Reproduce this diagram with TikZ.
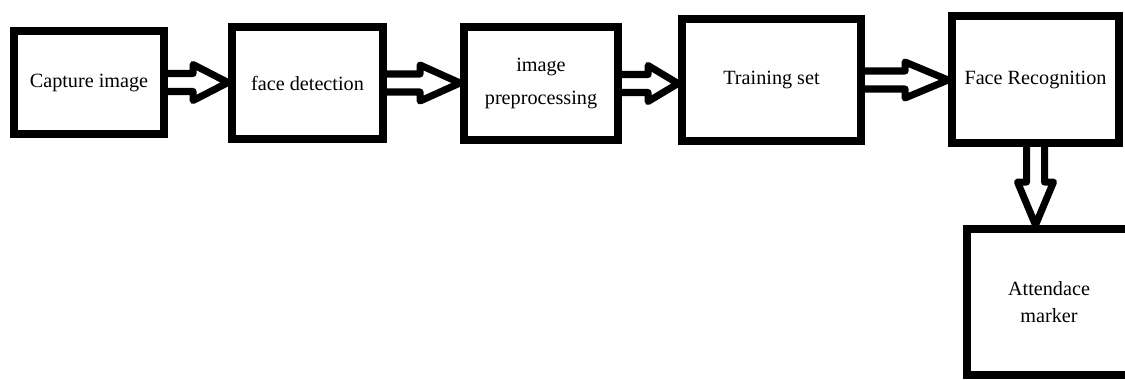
\documentclass[tikz,border=0pt]{standalone}
\usepackage{fontspec}
\setmainfont{Liberation Serif}
\usetikzlibrary{calc}
\tikzset{
  stage/.style={draw=black,line width=4.5pt,text=black,align=center,
                font=\fontsize{11.5}{15.5}\selectfont},
  hollow/.style={draw=black,line width=4pt,line join=round},
}
% outlined block arrow from #2 to #3, head length #1
\newcommand{\hollowarrow}[3][0.75cm]{%
  \coordinate (hb) at ($(#3)!#1!(#2)$);
  \draw[hollow]
    ($(#2)!0.18cm!90:(#3)$) -- ($(hb)!0.18cm!90:(#3)$)
    -- ($(hb)!0.36cm!90:(#3)$) -- (#3) -- ($(hb)!0.36cm!-90:(#3)$)
    -- ($(hb)!0.18cm!-90:(#3)$) -- ($(#2)!0.18cm!-90:(#3)$);
}

\begin{document}
\begin{tikzpicture}[x=0.02cm,y=-0.02cm]
  \path[use as bounding box] (0,0) rectangle (1125,379);
  \clip (0,0) rectangle (1125,379);

  % the pipeline, left to right
  \node[stage,minimum width=3.0cm,minimum height=2.06cm] (cap) at (89,82.5) {Capture image};
  \node[stage,minimum width=3.02cm,minimum height=2.24cm] (det) at (307.5,83) {face detection};
  \node[stage,minimum width=3.08cm,minimum height=2.26cm] (pre) at (541,83.5) {image\\[3pt]preprocessing};
  \node[stage,minimum width=3.58cm,minimum height=2.44cm] (tra) at (771.5,80) {Training set};
  \node[stage,minimum width=3.34cm,minimum height=2.54cm] (rec) at (1035.5,79.5) {Face Recognition};

  % last stage runs off the right and bottom edge
  \node[stage,minimum width=3.28cm,minimum height=2.92cm] (att) at (1049,302) {Attendace\\marker};

  \hollowarrow[0.7cm]{cap.east}{cap.east -| det.west}
  \hollowarrow[0.8cm]{det.east}{det.east -| pre.west}
  \hollowarrow[0.6cm]{pre.east}{pre.east -| tra.west}
  \hollowarrow[0.86cm]{tra.east}{tra.east -| rec.west}
  \hollowarrow[0.86cm]{rec.south}{rec.south |- att.north}
\end{tikzpicture}
\end{document}
